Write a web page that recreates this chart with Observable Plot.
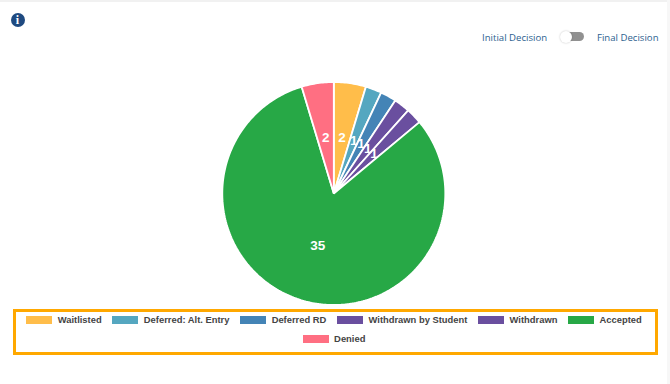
<!DOCTYPE html>
<html>
<head>
<meta charset="utf-8">
<script src="https://cdn.jsdelivr.net/npm/d3@7"></script>
<script src="https://cdn.jsdelivr.net/npm/@observablehq/plot@0.6"></script>
<style>
html,body{margin:0;padding:0;background:#fff;width:670px;height:384px;overflow:hidden}
#page{position:relative;width:670px;height:384px;overflow:hidden}
#topbar{position:absolute;left:0;top:0;width:670px;height:2px;background:#f1f1f1}
#rightbar{position:absolute;right:0;top:0;width:3px;height:384px;background:#f7f7f7}
#chart{position:absolute;left:0;top:0}
#chart svg{display:block}
#info{position:absolute;left:10.5px;top:13px;width:14px;height:14px;border-radius:50%;background:#1f4a80;color:#fff;font:bold 12px/14px "Liberation Serif",serif;text-align:center}
.tg{position:absolute;top:30px;font:9.6px/15px "Open Sans",sans-serif;color:#2d5f8f;white-space:nowrap}
#track{position:absolute;left:563px;top:32px;width:21px;height:9px;border-radius:5px;background:#919191}
#knob{position:absolute;left:560px;top:31px;width:12px;height:12px;border-radius:50%;background:#fff;box-shadow:0 0 2px rgba(0,0,0,.25)}
#legend{position:absolute;left:13px;top:309px;width:636px;height:39px;border:3px solid #ffa800;padding:1px 3px 0 0;display:flex;flex-wrap:wrap;justify-content:center;align-content:flex-start;font:bold 9.4px/14px "Liberation Sans",Arial,sans-serif;color:#444;row-gap:5px;column-gap:10.7px}
.item{display:flex;align-items:center;height:14px;white-space:nowrap}
.sw{width:26px;height:8px;margin-right:5.5px}
</style>
</head>
<body>
<div id="page">
<div id="topbar"></div><div id="rightbar"></div>
<div id="chart"></div>
<div id="info">i</div>
<div class="tg" id="tgA" style="left:482px"></div>
<div id="track"></div><div id="knob"></div>
<div class="tg" id="tgB" style="left:597px"></div>
<div id="legend"></div>
</div>
<script>
const categories = ["Waitlisted","Deferred: Alt. Entry","Deferred RD","Withdrawn by Student","Withdrawn","Accepted","Denied"];
const counts = [2,1,1,1,1,35,2];
const colors = ["#ffbd4a","#55a7c0","#4484b6","#6a4f9f","#6a4f9f","#27a846","#ff6f82"];
const toggleLabels = ["Initial Decision","Final Decision"];

const W = 670, H = 384, R = 111.5, CX = 333.3, CY = 193;
const arcs = d3.pie().sort(null)(counts);
const polygons = [];
arcs.forEach((a, i) => {
  polygons.push({k: i, x: 0, y: 0});
  const n = Math.max(2, Math.ceil((a.endAngle - a.startAngle) * 60));
  d3.range(n + 1).forEach(j => {
    const t = a.startAngle + (a.endAngle - a.startAngle) * j / n;
    polygons.push({k: i, x: Math.sin(t), y: Math.cos(t)});
  });
});
const labels = arcs.map((a, i) => {
  const t = (a.startAngle + a.endAngle) / 2;
  return {x: 0.5 * Math.sin(t), y: 0.5 * Math.cos(t), v: counts[i]};
});

const plot = Plot.plot({
  width: W, height: H, margin: 0,
  x: {domain: [-CX / R, (W - CX) / R], range: [0, W], axis: null},
  y: {domain: [-(H - CY) / R, CY / R], range: [H, 0], axis: null},
  color: {domain: categories.map((_, i) => i), range: colors},
  marks: [
    Plot.line(polygons, {x: "x", y: "y", z: "k", fill: "k", stroke: "#fff", strokeWidth: 1.8,
      curve: "linear-closed", strokeLinejoin: "miter"}),
    Plot.text(labels, {x: "x", y: "y", dy: -1, text: "v", fill: "#fff", fontWeight: "bold",
      fontSize: 13.5, fontFamily: "Liberation Sans, Arial, sans-serif"})
  ]
});
plot.style.background = "transparent";
document.getElementById("chart").append(plot);

document.getElementById("tgA").textContent = toggleLabels[0];
document.getElementById("tgB").textContent = toggleLabels[1];
const lg = d3.select("#legend");
categories.forEach((c, i) => {
  const it = lg.append("div").attr("class", "item");
  it.append("div").attr("class", "sw").style("background", colors[i]);
  it.append("span").text(c);
});
</script>
</body>
</html>
